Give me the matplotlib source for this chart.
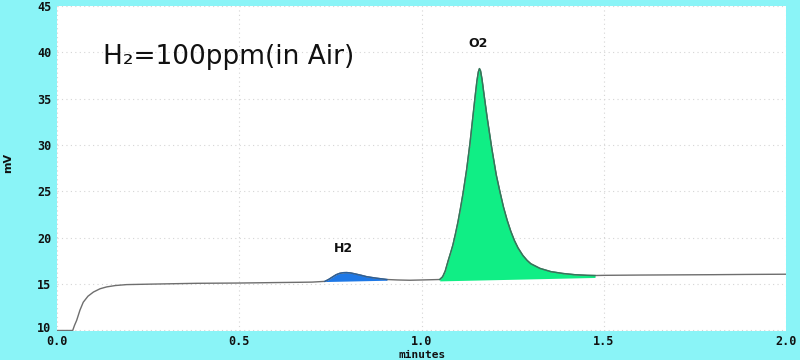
import numpy as np
import matplotlib
matplotlib.use("Agg")
import matplotlib.pyplot as plt
from matplotlib.transforms import ScaledTranslation

# ---- data ----
time_min = [0.000, 0.043, 0.048, 0.054, 0.063, 0.072, 0.085, 0.100, 0.118, 0.136,
            0.160, 0.191, 0.255, 0.383, 0.500, 0.600, 0.667, 0.700, 0.735, 0.745,
            0.757, 0.766, 0.776, 0.786, 0.795, 0.805, 0.815, 0.825, 0.835, 0.850,
            0.875, 0.905, 0.935, 0.968, 1.000, 1.030, 1.050, 1.058, 1.065, 1.073,
            1.080, 1.086, 1.093, 1.100, 1.107, 1.114, 1.124, 1.133, 1.140, 1.147,
            1.152, 1.156, 1.159, 1.162, 1.166, 1.171, 1.180, 1.193, 1.205, 1.215,
            1.225, 1.235, 1.245, 1.255, 1.265, 1.278, 1.290, 1.300, 1.325, 1.355,
            1.388, 1.420, 1.454, 1.476, 1.500, 1.600, 1.700, 1.800, 1.900, 2.000]
signal_mv = [10.00, 10.00, 10.55, 11.10, 12.20, 13.05, 13.70, 14.15, 14.50, 14.70,
             14.85, 14.95, 15.00, 15.09, 15.12, 15.17, 15.20, 15.22, 15.30, 15.50,
             15.80, 16.02, 16.17, 16.24, 16.25, 16.21, 16.13, 16.04, 15.95, 15.80,
             15.65, 15.50, 15.45, 15.42, 15.45, 15.48, 15.50, 15.80, 16.40, 17.50,
             18.40, 19.20, 20.40, 21.70, 23.20, 24.80, 27.40, 30.20, 32.70, 35.20,
             36.90, 37.90, 38.25, 38.00, 37.10, 35.60, 33.00, 29.60, 26.80, 25.00,
             23.30, 21.90, 20.70, 19.70, 18.90, 18.10, 17.55, 17.20, 16.70, 16.35,
             16.15, 16.02, 15.95, 15.93, 15.95, 15.98, 16.00, 16.02, 16.05, 16.07]

# integrated peaks
peak_names = ["H2", "O2"]
peak_start = [0.735, 1.050]
peak_end = [0.905, 1.476]
peak_base_start = [15.28, 15.35]
peak_base_end = [15.42, 15.72]
peak_label_t = [0.785, 1.155]
peak_label_mv = [18.1, 40.3]
peak_colors = ["#1E78E6", "#10EE85"]
peak_edges = ["#2a5f9a", "#2f7a5a"]

title_text = "H\u2082=100ppm(in Air)"

x_ticks = [0.0, 0.5, 1.0, 1.5, 2.0]
x_ticklabels = ["0.0", "0.5", "1.0", "1.5", "2.0"]
y_ticks = [10, 15, 20, 25, 30, 35, 40, 45]

# ---- figure ----
bg = "#8AF4F7"
fig = plt.figure(figsize=(8, 3.6), dpi=100, facecolor=bg)
ax = fig.add_axes([57/800, 1-330.5/360, (786-57)/800, (330.5-6)/360])
ax.set_facecolor("white")

t = np.array(time_min)
s = np.array(signal_mv)

for i in range(len(peak_names)):
    m = (t >= peak_start[i]) & (t <= peak_end[i])
    base = np.interp(t[m], [peak_start[i], peak_end[i]],
                     [peak_base_start[i], peak_base_end[i]])
    ax.fill_between(t[m], base, s[m], color=peak_colors[i], lw=0, zorder=2)
    ax.plot(t[m], s[m], color=peak_edges[i], lw=1.0, zorder=4)
    ax.text(peak_label_t[i], peak_label_mv[i], peak_names[i], ha="center",
            va="bottom", fontsize=9, fontweight="bold", family="DejaVu Sans",
            color="#111111", zorder=5)

ax.plot(t, s, color="#6E6E6E", lw=1.0, zorder=3)

ax.set_xlim(0, 2.0)
ax.set_ylim(10, 45)
ax.set_xticks(x_ticks)
ax.set_xticklabels(x_ticklabels)
ax.set_yticks(y_ticks)
ax.grid(True, color="#D5D5D5", lw=0.8, linestyle=(0, (1, 3)))
ax.set_axisbelow(True)
for sp in ax.spines.values():
    sp.set_visible(False)
ax.tick_params(axis="y", length=0, labelsize=8.5, pad=4, colors="#111111")
ax.tick_params(axis="x", length=0, labelsize=8.5, pad=3, colors="#111111")
for lab in ax.get_xticklabels() + ax.get_yticklabels():
    lab.set_fontweight("bold")
    lab.set_family("DejaVu Sans Mono")
# lift the bottom y label a little so it clears the "0.0" label
ylab0 = ax.get_yticklabels()[0]
ylab0.set_transform(ylab0.get_transform() + ScaledTranslation(0, 3/100, fig.dpi_scale_trans))

ax.text(0.125, 39.5, title_text, fontsize=19, family="DejaVu Sans",
        va="center", ha="left", color="#111111", zorder=5)

fig.text(422/800, 1-355.5/360, "minutes", ha="center", va="center",
         fontsize=8, fontweight="bold", family="DejaVu Sans Mono", color="#111111")
fig.text(8/800, 1-163/360, "mV", ha="center", va="center", rotation=90,
         fontsize=8, fontweight="bold", family="DejaVu Sans", color="#111111")

fig.savefig("out.png", dpi=100, facecolor=bg)
